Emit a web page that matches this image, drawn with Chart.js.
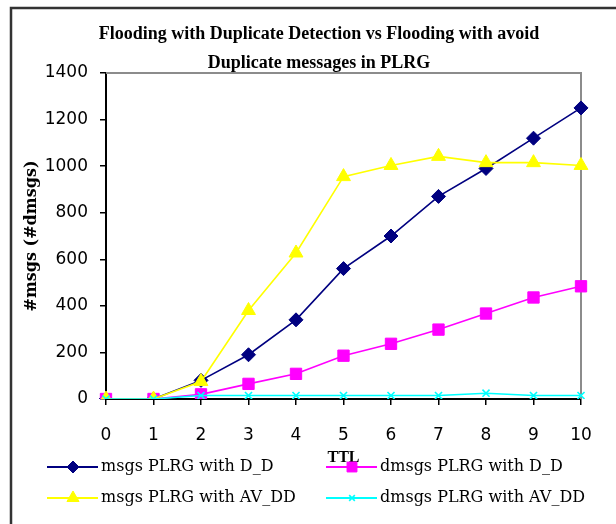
<!DOCTYPE html>
<html>
<head>
<meta charset="utf-8">
<script src="https://cdn.jsdelivr.net/npm/chart.js@4/dist/chart.umd.min.js"></script>
<style>
  html, body { margin: 0; padding: 0; background: #fff; }
  #wrap { width: 616px; height: 524px; }
</style>
</head>
<body>
<div id="wrap"><canvas id="chart" width="616" height="524"></canvas></div>
<script>
// TTL values on the x axis
const ttl = ['0', '1', '2', '3', '4', '5', '6', '7', '8', '9', '10'];

const msgsDD   = [0, 0, 80, 190, 340, 560, 700, 870, 990, 1120, 1250];
const dmsgsDD  = [0, 0, 20, 65, 108, 186, 237, 298, 367, 436, 484];
const msgsAV   = [0, 0, 75, 380, 627, 955, 1003, 1042, 1015, 1015, 1003];
const dmsgsAV  = [0, 0, 15, 15, 15, 15, 15, 15, 25, 15, 15];

const seriesNames = [
  'msgs PLRG with D_D',
  'dmsgs PLRG with D_D',
  'msgs PLRG with AV_DD',
  'dmsgs PLRG with AV_DD'
];

const titleLines = [
  'Flooding with Duplicate Detection vs Flooding with avoid',
  'Duplicate messages in PLRG'
];

const serif = "'Liberation Serif', 'DejaVu Serif', serif";
const wideSerif = "'DejaVu Serif', serif";
const sans = "'DejaVu Sans', sans-serif";

// white background, outer frame, gray top/right edge of the plot
const framePlugin = {
  id: 'framePlugin',
  beforeDraw(chart) {
    const ctx = chart.ctx;
    ctx.save();
    ctx.fillStyle = '#fff';
    ctx.fillRect(0, 0, chart.width, chart.height);
    ctx.strokeStyle = '#333';
    ctx.lineWidth = 2.5;
    ctx.beginPath();
    ctx.moveTo(11, chart.height + 5);
    ctx.lineTo(11, 8);
    ctx.lineTo(chart.width + 5, 8);
    ctx.stroke();
    ctx.restore();
  },
  beforeDatasetsDraw(chart) {
    const a = chart.chartArea;
    const ctx = chart.ctx;
    ctx.save();
    ctx.strokeStyle = '#8c8c8c';
    ctx.lineWidth = 2;
    ctx.beginPath();
    ctx.moveTo(a.left, a.top);
    ctx.lineTo(a.right, a.top);
    ctx.lineTo(a.right, a.bottom);
    ctx.stroke();
    ctx.restore();
  }
};

// two-column legend under the axis title (line + marker + text)
const legendPlugin = {
  id: 'legendPlugin',
  afterDraw(chart) {
    const ctx = chart.ctx;
    const cols = [47, 326];
    const rows = [467, 498];
    ctx.save();
    ctx.font = '16px ' + wideSerif;
    ctx.textBaseline = 'middle';
    chart.data.datasets.forEach((ds, i) => {
      const x = cols[i % 2];
      const y = rows[Math.floor(i / 2)];
      ctx.strokeStyle = ds.borderColor;
      ctx.lineWidth = 2;
      ctx.beginPath();
      ctx.moveTo(x, y);
      ctx.lineTo(x + 51, y);
      ctx.stroke();
      ctx.fillStyle = ds.pointBackgroundColor;
      ctx.strokeStyle = ds.pointBorderColor;
      ctx.lineWidth = ds.pointBorderWidth;
      Chart.helpers.drawPoint(ctx, {
        pointStyle: ds.pointStyle,
        radius: ds.pointRadius - 1,
        rotation: 0,
        borderWidth: ds.pointBorderWidth
      }, x + 26, y);
      ctx.fillStyle = '#000';
      ctx.fillText(ds.label, x + 54, y);
    });
    ctx.restore();
  }
};

function series(label, data, color, style, radius, order) {
  return {
    label: label,
    data: data,
    borderColor: color,
    backgroundColor: color,
    borderWidth: 1.6,
    pointStyle: style,
    pointRadius: radius,
    pointHoverRadius: radius,
    pointBackgroundColor: color,
    pointBorderColor: color,
    pointBorderWidth: style === 'crossRot' ? 1.6 : 1,
    tension: 0,
    order: order
  };
}

const config = {
  type: 'line',
  data: {
    labels: ttl,
    datasets: [
      series(seriesNames[0], msgsDD, '#000080', 'rectRot', 7, 3),
      series(seriesNames[1], dmsgsDD, '#ff00ff', 'rect', 8, 2),
      series(seriesNames[2], msgsAV, '#ffff00', 'triangle', 8, 1),
      series(seriesNames[3], dmsgsAV, '#00ffff', 'crossRot', 5, 0)
    ]
  },
  options: {
    responsive: false,
    animation: false,
    layout: { padding: { top: 0, left: 22, right: 0, bottom: 57 } },
    plugins: {
      legend: { display: false },
      tooltip: { enabled: false },
      title: {
        display: true,
        text: titleLines,
        color: '#000',
        font: { family: serif, weight: 'bold', size: 18, lineHeight: 1.6 },
        padding: { top: 20, bottom: -4.6 }
      }
    },
    scales: {
      x: {
        offset: false,
        grid: { drawOnChartArea: false, drawTicks: true, tickLength: 6, color: '#000', lineWidth: 1.5 },
        border: { color: '#000', width: 2 },
        ticks: {
          color: '#000',
          font: { family: sans, size: 17 },
          padding: 20,
          maxRotation: 0,
          autoSkip: false
        },
        title: {
          display: true,
          text: 'TTL',
          color: '#000',
          font: { family: serif, weight: 'bold', size: 16 },
          padding: { top: 0, bottom: 0 }
        },
        afterFit(scale) {
          scale.height = 68;
          scale.paddingRight = 35;
        }
      },
      y: {
        min: 0,
        max: 1400,
        grid: { drawOnChartArea: false, drawTicks: true, tickLength: 6, color: '#000', lineWidth: 1.5 },
        border: { color: '#000', width: 2 },
        ticks: {
          stepSize: 200,
          color: '#000',
          font: { family: sans, size: 17 },
          padding: 12,
          callback: (v) => String(v)
        },
        title: {
          display: true,
          text: '#msgs (#dmsgs)',
          color: '#000',
          font: { family: wideSerif, weight: 'bold', size: 16 },
          padding: { top: 0, bottom: 0 }
        },
        afterFit(scale) { scale.width = 84; }
      }
    }
  },
  plugins: [framePlugin, legendPlugin]
};

new Chart(document.getElementById('chart'), config);
</script>
</body>
</html>
